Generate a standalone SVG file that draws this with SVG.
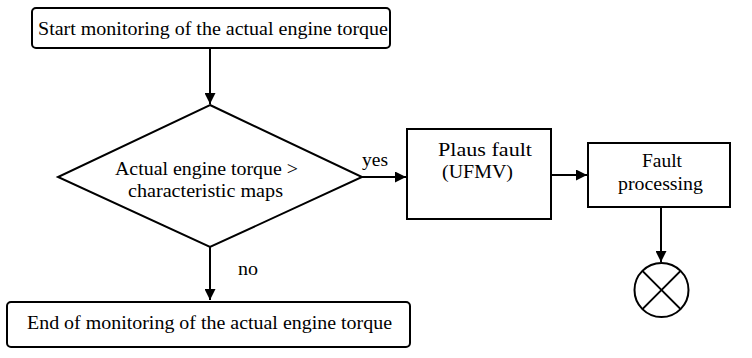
<svg xmlns="http://www.w3.org/2000/svg" width="752" height="358" viewBox="0 0 752 358">
<style>
.s{fill:#fff;stroke:#000;stroke-width:2}
.t{font-family:'Times New Roman',Tinos,'Liberation Serif','Noto Serif','DejaVu Serif',serif;font-size:18px;fill:#000;text-anchor:middle}
.c{stroke:#000;stroke-width:2;fill:none}
</style>
<defs>
<marker id="a" viewBox="0 0 10 10" refX="10" refY="5" markerWidth="5.5" markerHeight="5.5" orient="auto" markerUnits="strokeWidth">
<path d="M0,0 L10,5 L0,10 z" fill="#000"/>
</marker>
</defs>
<rect width="752" height="358" fill="#fff"/>
<g id="start">
<rect class="s" x="32" y="8" width="358" height="40" rx="4"/>
<text class="t" x="213" y="35" textLength="350" lengthAdjust="spacingAndGlyphs">Start monitoring of the actual engine torque</text>
</g>
<g id="decision">
<polygon class="s" points="210,105 362,177 210,247 58,177"/>
<text class="t" x="206.5" y="175" textLength="183" lengthAdjust="spacingAndGlyphs">Actual engine torque &gt;</text>
<text class="t" x="205.5" y="197" textLength="155" lengthAdjust="spacingAndGlyphs">characteristic maps</text>
</g>
<g id="plaus">
<rect class="s" x="407" y="129" width="144" height="90"/>
<text class="t" x="485" y="156" textLength="94" lengthAdjust="spacingAndGlyphs">Plaus fault</text>
<text class="t" x="477.5" y="178" textLength="71" lengthAdjust="spacingAndGlyphs">(UFMV)</text>
</g>
<g id="fault">
<rect class="s" x="588" y="143" width="142" height="64"/>
<text class="t" x="662" y="167" textLength="40" lengthAdjust="spacingAndGlyphs">Fault</text>
<text class="t" x="660.5" y="190" textLength="85" lengthAdjust="spacingAndGlyphs">processing</text>
</g>
<g id="end">
<rect class="s" x="7" y="302" width="403" height="45" rx="4"/>
<text class="t" x="209.5" y="329" textLength="365" lengthAdjust="spacingAndGlyphs">End of monitoring of the actual engine torque</text>
</g>
<g id="terminator">
<circle class="s" cx="661.5" cy="290" r="27"/>
<line class="c" x1="642.4" y1="270.9" x2="680.6" y2="309.1"/>
<line class="c" x1="680.6" y1="270.9" x2="642.4" y2="309.1"/>
</g>
<g id="connectors">
<line class="c" x1="210" y1="48" x2="210" y2="104" marker-end="url(#a)"/>
<line class="c" x1="362" y1="177" x2="406" y2="177" marker-end="url(#a)"/>
<text class="t" x="375" y="166" textLength="26" lengthAdjust="spacingAndGlyphs">yes</text>
<line class="c" x1="551" y1="175" x2="587" y2="175" marker-end="url(#a)"/>
<line class="c" x1="661" y1="207" x2="661" y2="262" marker-end="url(#a)"/>
<line class="c" x1="210" y1="247" x2="210" y2="300" marker-end="url(#a)"/>
<text class="t" x="248" y="275" textLength="20" lengthAdjust="spacingAndGlyphs">no</text>
</g>
</svg>
